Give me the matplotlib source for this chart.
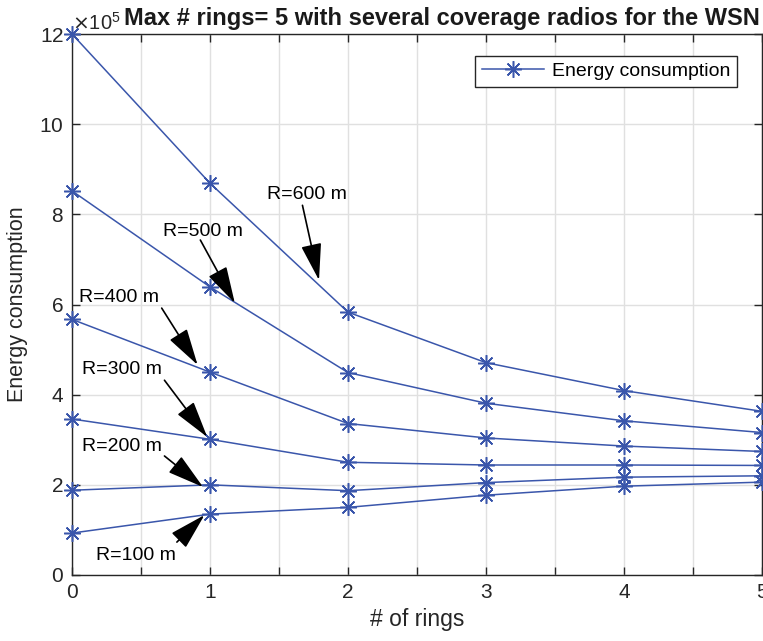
import matplotlib
matplotlib.use("Agg")
import matplotlib.pyplot as plt
from matplotlib.ticker import ScalarFormatter, MultipleLocator, FuncFormatter

plt.rcParams['font.family'] = ['Liberation Sans', 'DejaVu Sans']

rings = [0, 1, 2, 3, 4, 5]
r600 = [12.0, 8.69, 5.83, 4.71, 4.09, 3.63]
r500 = [8.52, 6.39, 4.49, 3.81, 3.42, 3.16]
r400 = [5.67, 4.50, 3.36, 3.04, 2.86, 2.74]
r300 = [3.46, 3.01, 2.50, 2.44, 2.44, 2.43]
r200 = [1.88, 2.00, 1.87, 2.05, 2.17, 2.20]
r100 = [0.93, 1.35, 1.50, 1.77, 1.97, 2.06]
series = [r600, r500, r400, r300, r200, r100]
scale = 1e5

labels = ["R=600 m", "R=500 m", "R=400 m", "R=300 m", "R=200 m", "R=100 m"]
# text centre, arrow tail, arrow tip (data coords, y in 1e5 units)
text_pos = [(1.70, 8.43), (0.95, 7.61), (0.34, 6.16), (0.36, 4.55), (0.36, 2.86), (0.46, 0.44)]
tails = [(1.67, 8.20), (0.93, 7.43), (0.65, 5.92), (0.67, 4.32), (0.67, 2.64), (0.76, 0.73)]
tips = [(1.79, 6.54), (1.18, 6.03), (0.91, 4.66), (0.98, 3.06), (0.95, 1.95), (0.96, 1.33)]

blue = '#3a56ab'
gray = '#262626'

fig = plt.figure(figsize=(7.63, 6.41), dpi=100)
ax = fig.add_axes([72/763, 66/641, 690/763, 541/641])

for i, s in enumerate(series):
    ax.plot(rings, [v*scale for v in s], color=blue, lw=1.1, marker=(8, 2, 0),
            markersize=12, markeredgewidth=1.1,
            label="Energy consumption" if i == 0 else None, clip_on=False, zorder=3)

for lab, tp, tl, tip in zip(labels, text_pos, tails, tips):
    ax.annotate('', xy=(tip[0], tip[1]*scale), xytext=(tl[0], tl[1]*scale),
                arrowprops=dict(arrowstyle='-|>,head_length=1.15,head_width=0.32',
                                color='black', lw=1.2, mutation_scale=20,
                                shrinkA=0, shrinkB=0), zorder=4)
    ax.text(tp[0], tp[1]*scale, lab, ha='center', va='center', fontsize=14, color='black', zorder=5)

ax.set_xlim(0, 5)
ax.set_ylim(0, 12e5)
ax.xaxis.set_major_locator(MultipleLocator(0.5))
ax.xaxis.set_major_formatter(FuncFormatter(lambda v, p: f"{int(round(v))}" if abs(v - round(v)) < 1e-6 else ""))
ax.yaxis.set_major_locator(MultipleLocator(2e5))
fmt = ScalarFormatter(useMathText=True)
fmt.set_powerlimits((5, 5))
ax.yaxis.set_major_formatter(fmt)
ax.yaxis.get_offset_text().set_fontsize(14.5)
ax.yaxis.get_offset_text().set_color(gray)

ax.grid(True, color='#e0e0e0', lw=1.0)
ax.set_axisbelow(True)
ax.tick_params(direction='in', top=True, right=True, length=6, width=1, colors=gray,
               labelsize=15, pad=6)
for sp in ax.spines.values():
    sp.set_color(gray)
    sp.set_linewidth(1.0)

ax.set_xlabel("# of rings", fontsize=16.5, color=gray, labelpad=4)
ax.set_ylabel("Energy consumption", fontsize=15.5, color=gray, labelpad=8)
fig.text(442/763, 1 - 19/641, "Max # rings= 5 with several coverage radios for the WSN",
         fontsize=17, fontweight='bold', color='#1a1a1a', ha='center', va='center')

leg = ax.legend(loc='upper right', bbox_to_anchor=(0.978, 0.978), fontsize=14,
                fancybox=False, edgecolor=gray, framealpha=1, handlelength=3.2,
                borderpad=0.35, handletextpad=0.4)
leg.get_frame().set_linewidth(1.0)

fig.savefig("out.png", dpi=100)
